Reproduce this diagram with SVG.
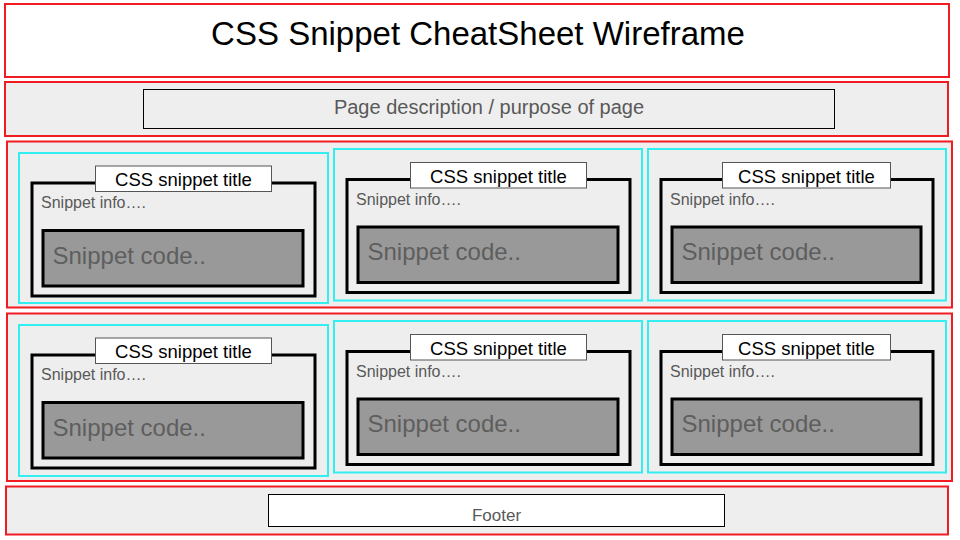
<svg xmlns="http://www.w3.org/2000/svg" width="960" height="540" viewBox="0 0 960 540">
  <style>
    .band { stroke: #f01c22; stroke-width: 2; }
    .card { fill: #eeeeee; stroke: #33eef0; stroke-width: 2; }
    .frame { fill: #eeeeee; stroke: #000000; stroke-width: 3; }
    .tbox { fill: #ffffff; stroke: #555555; stroke-width: 1; }
    .code { fill: #999999; stroke: #000000; stroke-width: 3; }
    text { font-family: "Liberation Sans", Arial, sans-serif; }
    .ttl { font-size: 18.5px; fill: #000000; text-anchor: middle; }
    .info { font-size: 16px; fill: #595959; }
    .ctext { font-size: 24px; fill: #5e5e5e; }
  </style>
  <defs>
    <!-- snippet card, wide variant -->
    <g id="snippet">
      <rect class="frame" x="13" y="30" width="283" height="113"/>
      <rect class="tbox" x="76.5" y="13" width="176" height="25.5"/>
      <text class="ttl" x="164.5" y="33">CSS snippet title</text>
      <text class="info" x="22" y="55">Snippet info….</text>
      <rect class="code" x="24" y="77.5" width="260" height="55.5"/>
      <text class="ctext" x="33.5" y="110.5">Snippet code..</text>
    </g>
    <!-- snippet card, narrow variant for the last column -->
    <g id="snippet-narrow">
      <rect class="frame" x="13" y="30" width="272" height="113"/>
      <rect class="tbox" x="74.5" y="13" width="168" height="25.5"/>
      <text class="ttl" x="158.5" y="33">CSS snippet title</text>
      <text class="info" x="22" y="55">Snippet info….</text>
      <rect class="code" x="24" y="77.5" width="249" height="55.5"/>
      <text class="ctext" x="33.5" y="110.5">Snippet code..</text>
    </g>
  </defs>
  <rect width="960" height="540" fill="#ffffff"/>

  <g id="header">
    <rect class="band" x="5" y="4" width="944" height="73" fill="#ffffff"/>
    <text x="478" y="45" font-size="33" text-anchor="middle" fill="#000000">CSS Snippet CheatSheet Wireframe</text>
  </g>

  <g id="description">
    <rect class="band" x="5" y="82" width="943" height="54" fill="#eeeeee"/>
    <rect x="143.5" y="89.5" width="691" height="39" fill="#eeeeee" stroke="#000000" stroke-width="1"/>
    <text x="489" y="114" font-size="20" text-anchor="middle" fill="#595959">Page description / purpose of page</text>
  </g>

  <g id="row1">
    <rect class="band" x="7" y="141.5" width="945" height="166" fill="#eeeeee"/>
  </g>
  <g id="row2">
    <rect class="band" x="7" y="313.5" width="945" height="167.5" fill="#eeeeee"/>
  </g>

  <g id="card-1-1">
    <rect class="card" x="19" y="153" width="309" height="150"/>
    <use href="#snippet" x="19" y="153"/>
  </g>
  <g id="card-1-2">
    <rect class="card" x="334" y="149" width="308" height="151.5"/>
    <use href="#snippet" x="334" y="149.5"/>
  </g>
  <g id="card-1-3">
    <rect class="card" x="648" y="149" width="298" height="151.5"/>
    <use href="#snippet-narrow" x="648" y="149.5"/>
  </g>

  <g id="card-2-1">
    <rect class="card" x="19" y="325" width="309" height="151"/>
    <use href="#snippet" x="19" y="325"/>
  </g>
  <g id="card-2-2">
    <rect class="card" x="334" y="321" width="308" height="151.5"/>
    <use href="#snippet" x="334" y="321.5"/>
  </g>
  <g id="card-2-3">
    <rect class="card" x="648" y="321" width="298" height="151.5"/>
    <use href="#snippet-narrow" x="648" y="321.5"/>
  </g>

  <g id="footer">
    <rect class="band" x="6" y="486.5" width="942" height="48" fill="#eeeeee"/>
    <rect x="268.5" y="494.5" width="456" height="32" fill="#ffffff" stroke="#000000" stroke-width="1"/>
    <text x="496.5" y="521" font-size="17" text-anchor="middle" fill="#595959">Footer</text>
  </g>

  <g id="connectors"/>
</svg>
